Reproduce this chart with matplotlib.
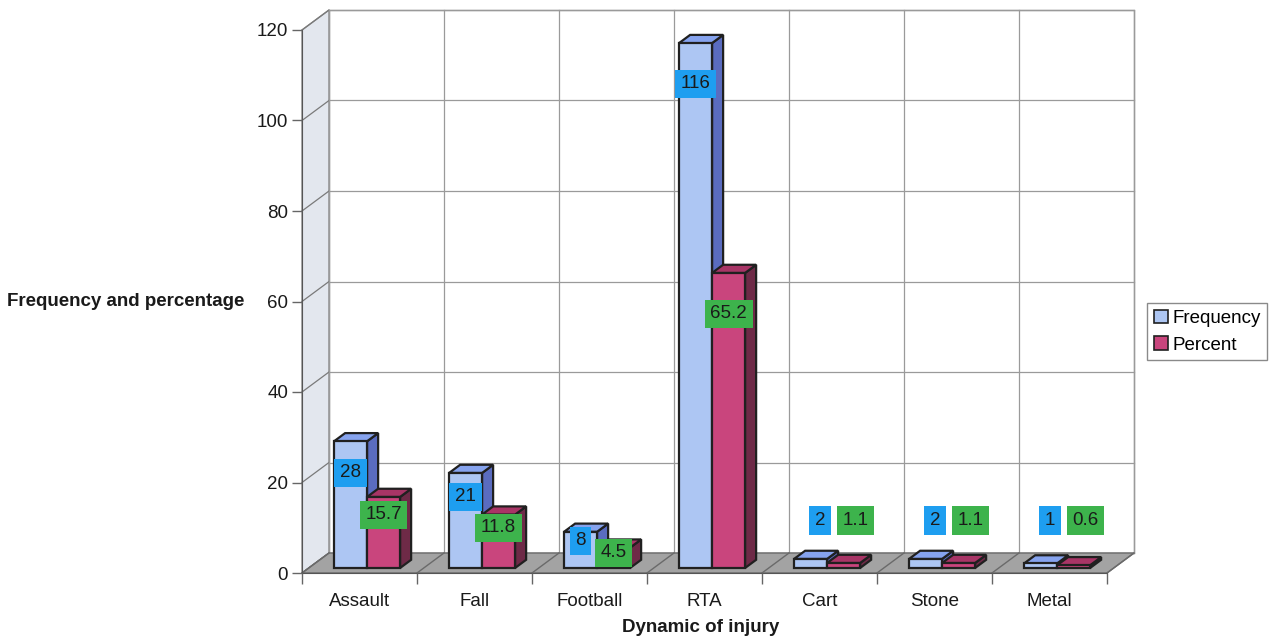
import matplotlib
matplotlib.use("Agg")
import matplotlib.pyplot as plt
from matplotlib.patches import Polygon, Patch

plt.rcParams['font.family'] = ['Liberation Sans', 'DejaVu Sans']

# ---- data ----
categories = ["Assault", "Fall", "Football", "RTA", "Cart", "Stone", "Metal"]
frequency = [28, 21, 8, 116, 2, 2, 1]
percent = [15.7, 11.8, 4.5, 65.2, 1.1, 1.1, 0.6]
freq_labels = ["28", "21", "8", "116", "2", "2", "1"]
pct_labels = ["15.7", "11.8", "4.5", "65.2", "1.1", "1.1", "0.6"]
y_ticks = [0, 20, 40, 60, 80, 100, 120]
series_names = ["Frequency", "Percent"]

# ---- style ----
W, H = 1274, 643
fig = plt.figure(figsize=(W / 100, H / 100), dpi=100)
ax = fig.add_axes([302 / W, 1 - 573 / H, (1107 - 302) / W, (573 - 30) / H])
ax.set_xlim(0, len(categories))
ax.set_ylim(0, 120)
ax.set_facecolor('none')

# 3D depth offsets in data units
DX = 27 / 115.0
DY = 20 / 4.525
n = len(categories)
ymax = y_ticks[-1]

wall_edge = '#8a8a8a'
# back wall
ax.add_patch(Polygon([(DX, DY), (n + DX, DY), (n + DX, ymax + DY), (DX, ymax + DY)],
                     closed=True, facecolor='white', edgecolor=wall_edge, lw=1.0,
                     clip_on=False, zorder=0.5))
# left wall
ax.add_patch(Polygon([(0, 0), (DX, DY), (DX, ymax + DY), (0, ymax)],
                     closed=True, facecolor='#e3e7ee', edgecolor=wall_edge, lw=1.0,
                     clip_on=False, zorder=0.6))
# gridlines
for v in y_ticks:
    ax.plot([DX, n + DX], [v + DY, v + DY], color='#9a9a9a', lw=0.9, clip_on=False, zorder=0.7)
    ax.plot([0, DX], [v, v + DY], color='#7a7a7a', lw=0.9, clip_on=False, zorder=0.7)
for i in range(n + 1):
    ax.plot([i + DX, i + DX], [DY, ymax + DY], color='#9a9a9a', lw=0.9, clip_on=False, zorder=0.7)
# floor
ax.add_patch(Polygon([(0, 0), (n, 0), (n + DX, DY), (DX, DY)], closed=True,
                     facecolor='#a3a3a3', edgecolor='#6a6a6a', lw=1.0, clip_on=False, zorder=0.8))
for i in range(n + 1):
    ax.plot([i, i + DX], [0, DY], color='#6a6a6a', lw=1.0, clip_on=False, zorder=0.9)

# bars
BZ = 0.25      # depth fraction of bar front
BD = 0.41      # depth fraction of bar thickness
GAP = 0.22
BW = 0.287
colors = [
    dict(front='#adc6f3', top='#86a3ee', side='#5a6cc0', box='#1e9ef0'),
    dict(front='#c9457d', top='#a83566', side='#6e2a47', box='#3db34c'),
]
ddx, ddy = BD * DX, BD * DY
bx, by = BZ * DX, BZ * DY
zo = 2
for i in range(n):
    for s, vals in enumerate([frequency, percent]):
        v = vals[i]
        c = colors[s]
        x0 = i + GAP + s * BW + bx
        x1 = x0 + BW
        b = by
        t = v + by
        ec = '#202020'
        ax.add_patch(Polygon([(x1, b), (x1 + ddx, b + ddy), (x1 + ddx, t + ddy), (x1, t)],
                             closed=True, facecolor=c['side'], edgecolor=ec, lw=1.6,
                             clip_on=False, zorder=zo, joinstyle='miter'))
        ax.add_patch(Polygon([(x0, t), (x1, t), (x1 + ddx, t + ddy), (x0 + ddx, t + ddy)],
                             closed=True, facecolor=c['top'], edgecolor=ec, lw=1.6,
                             clip_on=False, zorder=zo, joinstyle='miter'))
        ax.add_patch(Polygon([(x0, b), (x1, b), (x1, t), (x0, t)],
                             closed=True, facecolor=c['front'], edgecolor=ec, lw=1.6,
                             clip_on=False, zorder=zo, joinstyle='miter'))
        zo += 1

# labels
for i in range(n):
    for s, (vals, labs) in enumerate([(frequency, freq_labels), (percent, pct_labels)]):
        v = vals[i]
        x0 = i + GAP + s * BW + bx
        xc = x0 + BW / 2
        if v >= 3:
            ly = by + v - min(9, 0.25 * v)
        else:
            ly = by + 10.5
            xc += 0.08 + 0.025 * s
        ax.text(xc, ly, labs[i], ha='center', va='center', fontsize=13.5, color='#1a1a1a',
                zorder=100, clip_on=False,
                bbox=dict(boxstyle='square,pad=0.3', facecolor=colors[s]['box'], edgecolor='none'))

# axes styling
for sp in ['top', 'right']:
    ax.spines[sp].set_visible(False)
ax.spines['left'].set_color('#555555')
ax.spines['bottom'].set_color('#555555')
ax.spines['left'].set_zorder(1)
ax.spines['bottom'].set_zorder(1)
ax.set_yticks(y_ticks)
ax.set_yticklabels([str(v) for v in y_ticks])
ax.tick_params(axis='y', length=7, width=1, color='#666666', pad=3, labelsize=13.5, labelcolor='#1a1a1a')
ax.set_xticks(range(n + 1))
ax.set_xticklabels([''] * (n + 1))
ax.tick_params(axis='x', which='major', length=8, width=1, color='#666666', direction='out')
ax.set_xticks([i + 0.5 for i in range(n)], minor=True)
ax.set_xticklabels(categories, minor=True)
ax.tick_params(axis='x', which='minor', length=0, pad=14.5, labelsize=13.5, labelcolor='#1a1a1a')

fig.text(7 / W, 1 - 302 / H, "Frequency and percentage", ha='left', va='center',
         fontsize=13.5, fontweight='bold', color='#1a1a1a')
fig.text(701 / W, 1 - 628 / H, "Dynamic of injury", ha='center', va='center',
         fontsize=13.5, fontweight='bold', color='#1a1a1a')

handles = [Patch(facecolor=colors[0]['front'], edgecolor='#202020', lw=1.2),
           Patch(facecolor=colors[1]['front'], edgecolor='#202020', lw=1.2)]
leg = fig.legend(handles, series_names, loc='upper left',
                 bbox_to_anchor=(1147 / W, 1 - 303 / H), fontsize=13.5,
                 handlelength=0.75, handleheight=0.75, handletextpad=0.25,
                 borderpad=0.35, labelspacing=0.5, fancybox=False, framealpha=1,
                 borderaxespad=0)
leg.get_frame().set_edgecolor('#8a8a8a')
leg.get_frame().set_linewidth(1.0)

fig.savefig('out.png', dpi=100)
